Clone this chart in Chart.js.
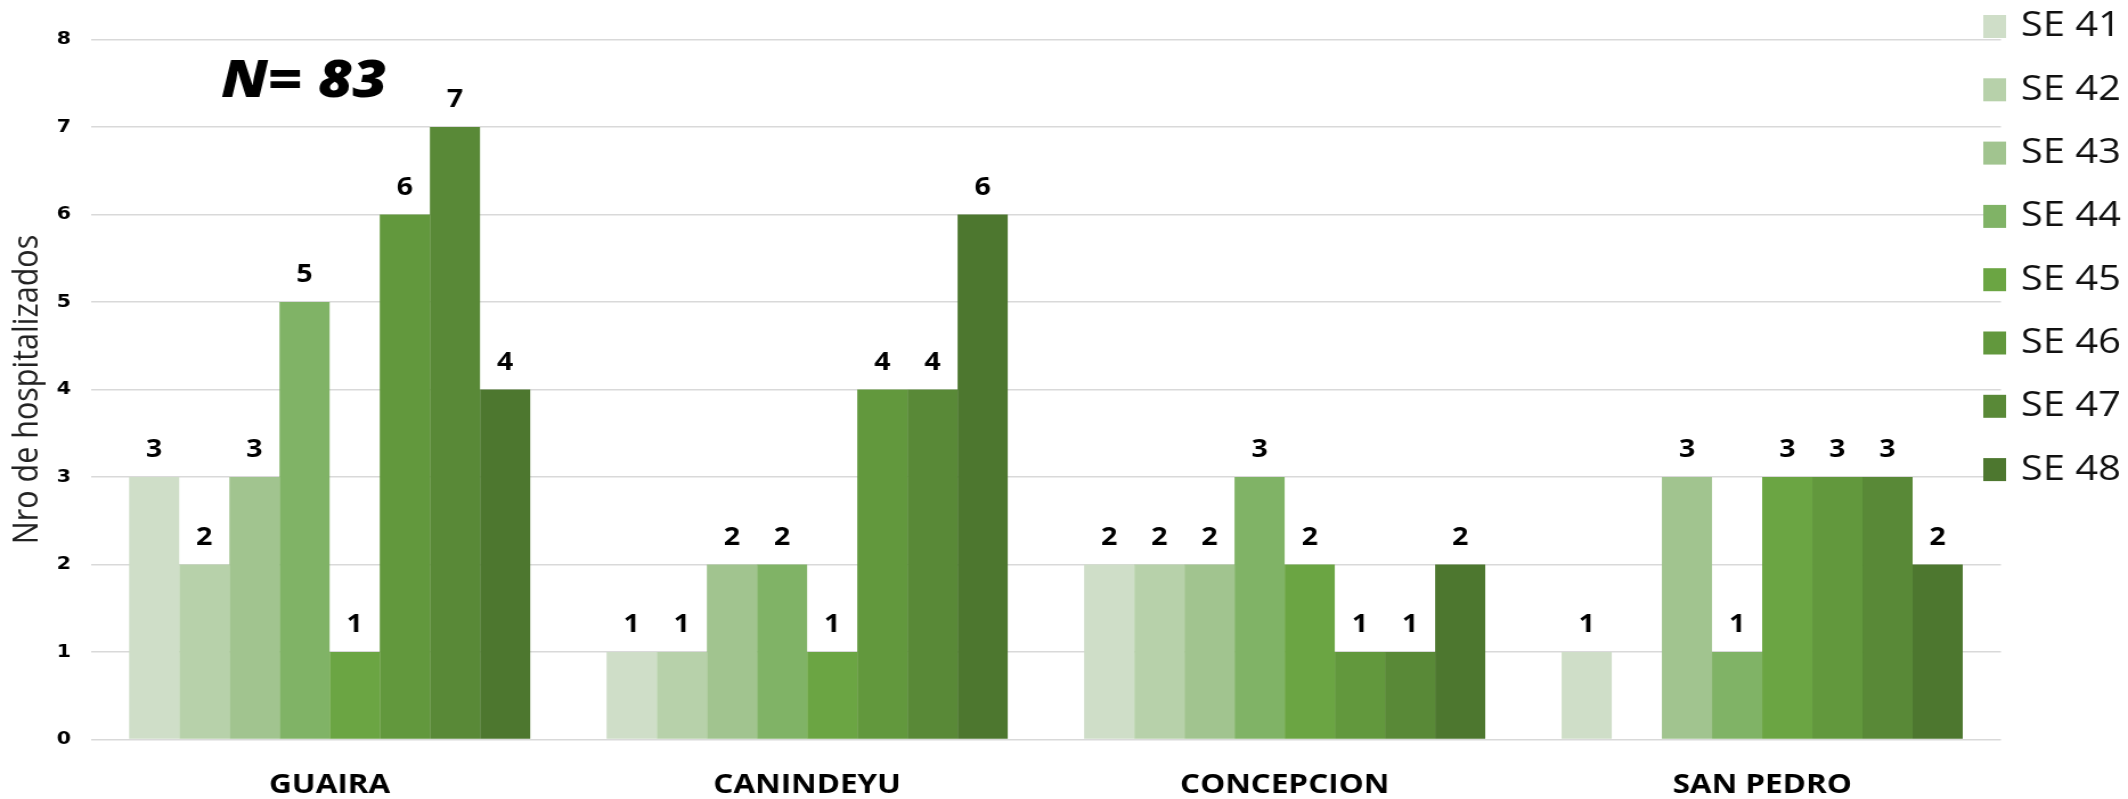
<!DOCTYPE html>
<html>
<head>
<meta charset="utf-8">
<script src="https://cdn.jsdelivr.net/npm/chart.js@4.4.1/dist/chart.umd.min.js"></script>
<style>
  html, body { margin: 0; padding: 0; background: #fff; overflow: hidden; }
  #wrap { width: 2128px; height: 799px; overflow: hidden; }
  #c { display: block; width: 1867px; height: 799px; transform-origin: 0 0; transform: scaleX(1.13980); }
</style>
</head>
<body>
<div id="wrap"><canvas id="c" width="1867" height="799"></canvas></div>
<script>
const categories = ['GUAIRA', 'CANINDEYU', 'CONCEPCION', 'SAN PEDRO'];
const seriesLabels = ['SE 41', 'SE 42', 'SE 43', 'SE 44', 'SE 45', 'SE 46', 'SE 47', 'SE 48'];
const se41 = [3, 1, 2, 1];
const se42 = [2, 1, 2, null];
const se43 = [3, 2, 2, 3];
const se44 = [5, 2, 3, 1];
const se45 = [1, 1, 2, 3];
const se46 = [6, 4, 1, 3];
const se47 = [7, 4, 1, 3];
const se48 = [4, 6, 2, 2];
const seriesColors = ['#cfdec8', '#b7d1aa', '#a1c48f', '#80b366', '#6ba543', '#62983d', '#598937', '#4d772f'];
const yMin = 0, yMax = 8, yStep = 1;
const yTitle = 'Nro de hospitalizados';
const noteText = 'N= 83';

const seriesValues = [se41, se42, se43, se44, se45, se46, se47, se48];

const valueLabels = {
  id: 'valueLabels',
  afterDatasetsDraw(chart) {
    const ctx = chart.ctx;
    ctx.save();
    ctx.font = 'bold 25px "Open Sans"';
    ctx.fillStyle = '#000';
    ctx.textAlign = 'center';
    ctx.textBaseline = 'middle';
    chart.data.datasets.forEach((ds, di) => {
      const meta = chart.getDatasetMeta(di);
      meta.data.forEach((el, i) => {
        const v = ds.data[i];
        if (v === null || v === undefined) return;
        ctx.fillText(String(v), el.x, el.y - 27);
      });
    });
    ctx.restore();
  }
};

const noteLabel = {
  id: 'noteLabel',
  afterDraw(chart) {
    const ctx = chart.ctx;
    const a = chart.chartArea;
    const y8 = chart.scales.y.getPixelForValue(yMax);
    ctx.save();
    ctx.font = 'italic 800 52px "Open Sans"';
    ctx.fillStyle = '#000';
    ctx.textAlign = 'center';
    ctx.textBaseline = 'middle';
    ctx.fillText(noteText, a.left + 187, y8 + 43);
    ctx.restore();
  }
};

// legend drawn beside the plot, overlapping the end of the gridlines as in the reference
const sideLegend = {
  id: 'sideLegend',
  afterDraw(chart) {
    const ctx = chart.ctx;
    const a = chart.chartArea;
    ctx.save();
    ctx.font = '35px "Open Sans"';
    ctx.textAlign = 'left';
    ctx.textBaseline = 'middle';
    chart.data.datasets.forEach((ds, i) => {
      const cy = a.top - 13 + i * 63.3;
      ctx.fillStyle = ds.backgroundColor;
      ctx.fillRect(a.right - 15.5, cy - 11.5, 20, 23);
      ctx.fillStyle = '#111';
      ctx.fillText(ds.label, a.right + 17.5, cy);
    });
    ctx.restore();
  }
};

Chart.defaults.font.family = '"Open Sans", sans-serif';
Chart.defaults.color = '#000';

new Chart(document.getElementById('c'), {
  type: 'bar',
  data: {
    labels: categories,
    datasets: seriesLabels.map((lab, i) => ({
      label: lab,
      data: seriesValues[i],
      backgroundColor: seriesColors[i],
      borderWidth: 0,
      categoryPercentage: 0.84,
      barPercentage: 1.0
    }))
  },
  options: {
    responsive: false,
    animation: false,
    devicePixelRatio: 1,
    layout: { padding: { top: 39.5, right: 111.5, bottom: -24.5, left: 0 } },
    plugins: {
      tooltip: { enabled: false },
      legend: { display: false }
    },
    scales: {
      x: {
        grid: { display: false },
        border: { display: false },
        ticks: {
          padding: 24,
          color: '#000',
          font: { size: 27.6, weight: 'bold', lineHeight: '28px' }
        }
      },
      y: {
        min: yMin,
        max: yMax,
        border: { display: false },
        grid: { color: '#d9d9d9', lineWidth: 1.5, drawTicks: false },
        ticks: {
          stepSize: yStep,
          padding: 17.5,
          color: '#000',
          font: { family: '"DejaVu Sans", sans-serif', size: 18, weight: 'bold' }
        },
        title: {
          display: true,
          text: yTitle,
          color: '#222',
          padding: { top: 17.8, bottom: 0.4 },
          font: { size: 30.5, lineHeight: '14px' }
        }
      }
    }
  },
  plugins: [valueLabels, noteLabel, sideLegend]
});
</script>
</body>
</html>
